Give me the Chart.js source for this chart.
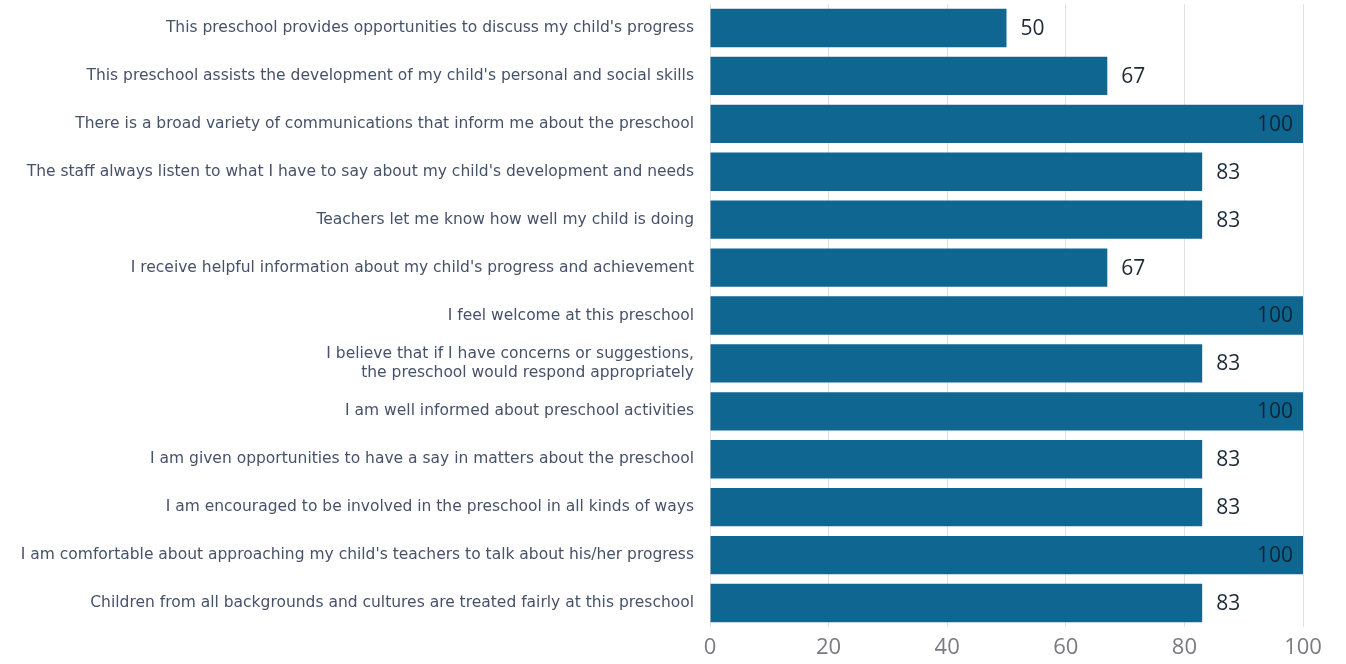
<!DOCTYPE html>
<html>
<head>
<meta charset="utf-8">
<script src="https://cdn.jsdelivr.net/npm/chart.js@4"></script>
<style>
    html, body { margin: 0; padding: 0; background: #fff; }
    #wrap { width: 1346px; height: 664px; }
</style>
</head>
<body>
<div id="wrap"><canvas id="surveyChart"></canvas></div>
<script>
// Survey statements (top to bottom)
const statements = [
    "This preschool provides opportunities to discuss my child's progress",
    "This preschool assists the development of my child's personal and social skills",
    "There is a broad variety of communications that inform me about the preschool",
    "The staff always listen to what I have to say about my child's development and needs",
    "Teachers let me know how well my child is doing",
    "I receive helpful information about my child's progress and achievement",
    "I feel welcome at this preschool",
    ["I believe that if I have concerns or suggestions,", "the preschool would respond appropriately"],
    "I am well informed about preschool activities",
    "I am given opportunities to have a say in matters about the preschool",
    "I am encouraged to be involved in the preschool in all kinds of ways",
    "I am comfortable about approaching my child's teachers to talk about his/her progress",
    "Children from all backgrounds and cultures are treated fairly at this preschool"
];
const agreePercent = [50, 67, 100, 83, 83, 67, 100, 83, 100, 83, 83, 100, 83];
const xTicks = [0, 20, 40, 60, 80, 100];

const barColor = '#0f6791';

// Value labels: outside the bar end, inside for full bars
const valueLabels = {
    id: 'valueLabels',
    afterDatasetsDraw(chart) {
        const ctx = chart.ctx;
        const meta = chart.getDatasetMeta(0);
        ctx.save();
        ctx.font = '21px "Open Sans", "DejaVu Sans", sans-serif';
        ctx.textBaseline = 'middle';
        meta.data.forEach((bar, i) => {
            const v = agreePercent[i];
            if (v >= 100) {
                ctx.fillStyle = '#0d2533';
                ctx.textAlign = 'right';
                ctx.fillText(v, bar.x - 10, bar.y + 1);
            } else {
                ctx.fillStyle = '#1e2a38';
                ctx.textAlign = 'left';
                ctx.fillText(v, bar.x + 14, bar.y + 1);
            }
        });
        ctx.restore();
    }
};

new Chart(document.getElementById('surveyChart'), {
    type: 'bar',
    data: {
        labels: statements,
        datasets: [{
            data: agreePercent,
            backgroundColor: barColor,
            borderWidth: 0,
            barPercentage: 0.8,
            categoryPercentage: 1.0
        }]
    },
    options: {
        indexAxis: 'y',
        responsive: true,
        maintainAspectRatio: false,
        animation: false,
        layout: { padding: { top: 4, right: 43, bottom: 0, left: 0 } },
        plugins: {
            legend: { display: false },
            tooltip: { enabled: false }
        },
        scales: {
            x: {
                min: 0,
                max: 100,
                afterBuildTicks: (axis) => { axis.ticks = xTicks.map(v => ({ value: v })); },
                afterFit: (axis) => { axis.height = 37; },
                grid: { color: '#e2e2e2', drawTicks: false },
                border: { display: false },
                ticks: {
                    color: '#7a7a80',
                    font: { family: '"Open Sans", "DejaVu Sans", sans-serif', size: 22 },
                    padding: 8
                }
            },
            y: {
                afterFit: (axis) => {
                    axis.width = 710;
                    axis.paddingTop = 0;
                    axis.paddingBottom = 0;
                },
                grid: { display: false, drawTicks: false },
                border: { display: false },
                ticks: {
                    color: '#46526a',
                    font: { family: '"DejaVu Sans", sans-serif', size: 15.5 },
                    padding: 16,
                    autoSkip: false
                }
            }
        }
    },
    plugins: [valueLabels]
});
</script>
</body>
</html>
